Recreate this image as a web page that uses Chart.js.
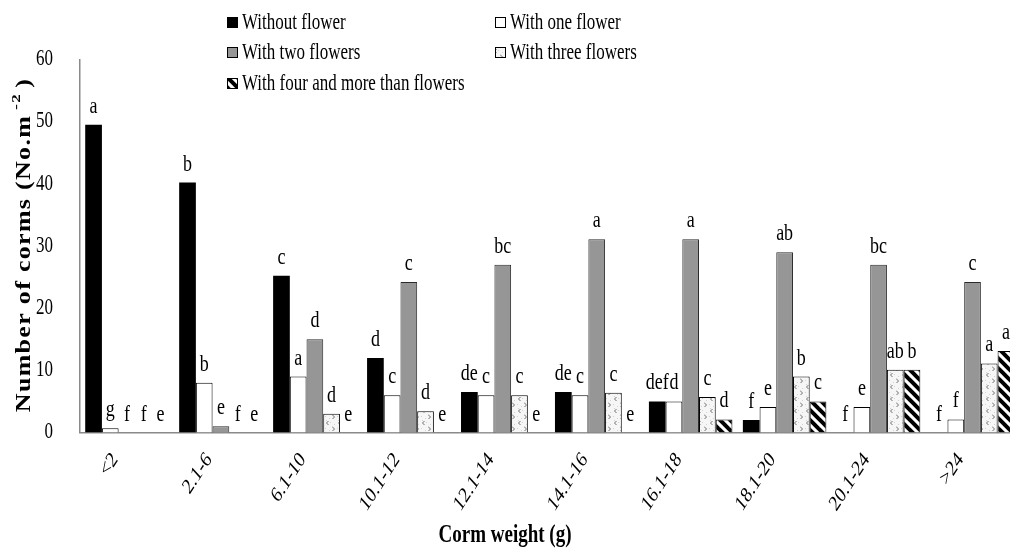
<!DOCTYPE html>
<html>
<head>
<meta charset="utf-8">
<script src="https://cdn.jsdelivr.net/npm/chart.js@4/dist/chart.umd.min.js"></script>
<style>
  html, body { margin: 0; padding: 0; background: #fff; overflow: hidden; }
  #wrap { width: 1022px; height: 548px; }
</style>
</head>
<body>
<div id="wrap"><canvas id="c" width="1022" height="548"></canvas></div>
<script>
// Corm weight classes (g)
const categories = ['<2', '2.1-6', '6.1-10', '10.1-12', '12.1-14', '14.1-16', '16.1-18', '18.1-20', '20.1-24', '>24'];

// Number of corms per m² by flowering class
const withoutFlower = [49.5, 40.2, 25.2, 12.0, 6.5, 6.5, 5.0, 2.0, 0, 0];
const withOneFlower = [0.7, 8.0, 9.0, 6.0, 6.0, 6.0, 5.0, 4.1, 4.1, 2.1];
const withTwoFlowers = [0, 1.0, 15.0, 24.2, 27.0, 31.1, 31.1, 29.0, 27.0, 24.2];
const withThreeFlowers = [0, 0, 3.0, 3.4, 6.0, 6.4, 5.7, 9.0, 10.1, 11.1];
const withFourMore = [0, 0, 0, 0, 0, 0, 2.1, 5.0, 10.1, 13.1];

// Mean-separation letters shown above each bar
const lettersWithout = ['a', 'b', 'c', 'd', 'de', 'de', 'def', 'f', 'f', 'f'];
const lettersOne = ['g', 'b', 'a', 'c', 'c', 'c', 'd', 'e', 'e', 'f'];
const lettersTwo = ['f', 'e', 'd', 'c', 'bc', 'a', 'a', 'ab', 'bc', 'c'];
const lettersThree = ['f', 'f', 'd', 'd', 'c', 'c', 'c', 'b', 'ab', 'a'];
const lettersFour = ['e', 'e', 'e', 'e', 'e', 'e', 'd', 'c', 'b', 'a'];

const seriesNames = ['Without flower', 'With one flower', 'With two flowers', 'With three flowers', 'With four and more than flowers'];
const yTicks = [0, 10, 20, 30, 40, 50, 60];

const SERIF = '"Liberation Serif", "Times New Roman", serif';
const STRETCH_Y = 1.3; // text is set a little taller than wide

const canvas = document.getElementById('c');
const ctx = canvas.getContext('2d');

// Fill textures for the hatched series
function dottedChevronPattern() {
  const t = document.createElement('canvas');
  t.width = 12; t.height = 12;
  const g = t.getContext('2d');
  g.fillStyle = '#f6f6f6';
  g.fillRect(0, 0, 12, 12);
  g.fillStyle = '#d2d2d2';
  [[1, 8], [6, 2], [10, 4], [5, 10], [2, 0], [8, 6]].forEach(([x, y]) => g.fillRect(x, y, 1, 1));
  g.strokeStyle = '#707070';
  g.lineWidth = 1;
  g.beginPath(); g.moveTo(4.5, 1); g.lineTo(2.5, 3); g.lineTo(4.5, 5); g.stroke();
  g.beginPath(); g.moveTo(8.5, 7); g.lineTo(10.5, 9); g.lineTo(8.5, 11); g.stroke();
  return ctx.createPattern(t, 'repeat');
}
function diagonalStripePattern() {
  const t = document.createElement('canvas');
  t.width = 10; t.height = 10;
  const g = t.getContext('2d');
  g.fillStyle = '#fff';
  g.fillRect(0, 0, 10, 10);
  g.strokeStyle = '#000';
  g.lineWidth = 4;
  [-10, 0, 10].forEach(c => {
    g.beginPath(); g.moveTo(c - 3, -3); g.lineTo(c + 13, 13); g.stroke();
  });
  return ctx.createPattern(t, 'repeat');
}

const fills = ['#000000', '#ffffff', '#969696', dottedChevronPattern(), diagonalStripePattern()];
const borders = ['#000000', '#000000', '#2a2a2a', '#000000', '#000000'];
const seriesValues = [withoutFlower, withOneFlower, withTwoFlowers, withThreeFlowers, withFourMore];
const seriesLetters = [lettersWithout, lettersOne, lettersTwo, lettersThree, lettersFour];

function drawTallText(c, text, x, y, font, align, baseline, angle) {
  c.save();
  c.font = font;
  c.fillStyle = '#000';
  c.textAlign = align;
  c.textBaseline = baseline;
  c.translate(x, y);
  c.scale(1, STRETCH_Y);
  if (angle) c.rotate(angle);
  c.fillText(text, 0, 0);
  c.restore();
}

const annotations = {
  id: 'annotations',
  afterDatasetsDraw(chart) {
    const c = chart.ctx;
    // letters above bars
    chart.data.datasets.forEach((ds, i) => {
      const meta = chart.getDatasetMeta(i);
      meta.data.forEach((bar, j) => {
        drawTallText(c, seriesLetters[i][j], bar.x, bar.y - 12, '18px ' + SERIF, 'center', 'alphabetic');
      });
    });
  },
  afterDraw(chart) {
    const c = chart.ctx;
    const xs = chart.scales.x, ys = chart.scales.y;

    // y tick labels
    yTicks.forEach(v => {
      drawTallText(c, String(v), 53, ys.getPixelForValue(v), '17px ' + SERIF, 'right', 'middle');
    });

    // x tick labels, slanted
    categories.forEach((lab, i) => {
      const cx = xs.getPixelForValue(i);
      drawTallText(c, lab, cx - 12, 456, '17px ' + SERIF, 'right', 'middle', -50 * Math.PI / 180);
    });

    // x axis title
    drawTallText(c, 'Corm weight (g)', 505, 542, 'bold 19px ' + SERIF, 'center', 'alphabetic');

    // y axis title with superscript unit
    c.save();
    c.fillStyle = '#000';
    c.translate(25, 245);
    c.scale(1, STRETCH_Y);
    c.rotate(-Math.PI / 2);
    c.textBaseline = 'middle';
    c.textAlign = 'left';
    const parts = [
      { t: 'Number of corms (No.m', f: 'bold 20px ' + SERIF, dy: 0, gap: 0 },
      { t: '-2', f: 'bold 13px ' + SERIF, dy: -8, gap: 4 },
      { t: ')', f: 'bold 20px ' + SERIF, dy: 0, gap: 4 }
    ];
    c.letterSpacing = '1px';
    let total = 0;
    parts.forEach(p => { c.font = p.f; p.w = c.measureText(p.t).width; total += p.w + p.gap; });
    let px = -total / 2;
    parts.forEach(p => {
      px += p.gap;
      c.font = p.f;
      c.fillText(p.t, px, p.dy);
      px += p.w;
    });
    c.restore();

    // legend, two columns
    const cols = [227, 495];
    const rows = [29, 59, 90];
    seriesNames.forEach((name, i) => {
      const sx = cols[i % 2];
      const base = rows[Math.floor(i / 2)];
      c.save();
      c.fillStyle = fills[i];
      c.fillRect(sx, base - 12, 11, 11);
      c.strokeStyle = '#000';
      c.lineWidth = 1;
      c.strokeRect(sx + 0.5, base - 11.5, 10, 10);
      c.restore();
      drawTallText(c, name, sx + 15, base, '17px ' + SERIF, 'left', 'alphabetic');
    });
  }
};

new Chart(canvas, {
  type: 'bar',
  data: {
    labels: categories,
    datasets: seriesNames.map((name, i) => ({
      label: name,
      data: seriesValues[i],
      backgroundColor: fills[i],
      borderColor: borders[i],
      borderWidth: i === 0 ? 0 : 1,
      categoryPercentage: 0.889,
      barPercentage: 1.0
    }))
  },
  options: {
    responsive: false,
    animation: false,
    layout: { padding: { top: 59.5, right: 2.5, left: 0, bottom: 0 } },
    plugins: { legend: { display: false }, tooltip: { enabled: false } },
    scales: {
      x: {
        grid: { display: false },
        border: { display: true, color: '#8a8a8a', width: 1.5 },
        ticks: { display: false },
        afterFit: s => { s.height = 115.5; }
      },
      y: {
        min: 0, max: 60,
        grid: { display: false },
        border: { display: true, color: '#8a8a8a', width: 1.5 },
        ticks: { display: false, stepSize: 10 },
        afterFit: s => { s.width = 80; }
      }
    }
  },
  plugins: [annotations]
});
</script>
</body>
</html>
